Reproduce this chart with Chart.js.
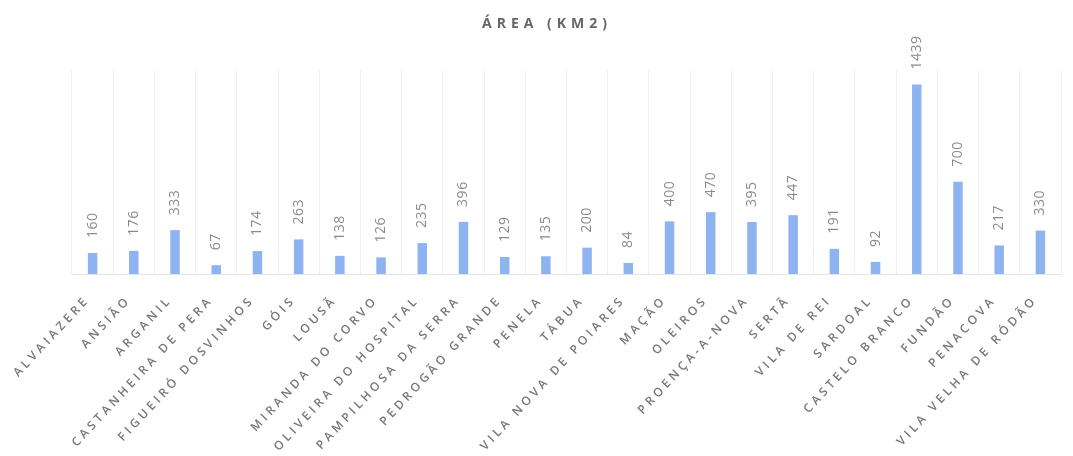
<!DOCTYPE html>
<html>
<head>
<meta charset="utf-8">
<script src="https://cdn.jsdelivr.net/npm/chart.js@4"></script>
<style>
  html, body { margin: 0; padding: 0; background: #fff; }
  #wrap { width: 1073px; height: 456px; }
</style>
</head>
<body>
<div id="wrap"><canvas id="grafico"></canvas></div>
<script>
const titulo = 'ÁREA (KM2)';
const concelhos = [
  'ALVAIAZERE', 'ANSIÃO', 'ARGANIL', 'CASTANHEIRA DE PERA', 'FIGUEIRÓ DOSVINHOS',
  'GÓIS', 'LOUSÃ', 'MIRANDA DO CORVO', 'OLIVEIRA DO HOSPITAL', 'PAMPILHOSA DA SERRA',
  'PEDROGÃO GRANDE', 'PENELA', 'TÁBUA', 'VILA NOVA DE POIARES', 'MAÇÃO', 'OLEIROS',
  'PROENÇA-A-NOVA', 'SERTÃ', 'VILA DE REI', 'SARDOAL', 'CASTELO BRANCO', 'FUNDÃO',
  'PENACOVA', 'VILA VELHA DE RÓDÃO'
];
const area = [160, 176, 333, 67, 174, 263, 138, 126, 235, 396, 129, 135, 200, 84,
  400, 470, 395, 447, 191, 92, 1439, 700, 217, 330];

// titulo e rótulos de valor desenhados à mão (precisam de espaçamento entre letras)
const extras = {
  id: 'extras',
  beforeDraw(chart) {
    chart.ctx.letterSpacing = '3.6px';
  },
  afterDatasetsDraw(chart) {
    const ctx = chart.ctx;
    ctx.save();
    ctx.letterSpacing = '0.5px';
    ctx.font = '14px "Open Sans"';
    ctx.fillStyle = '#8a8a8a';
    ctx.textAlign = 'left';
    ctx.textBaseline = 'middle';
    chart.getDatasetMeta(0).data.forEach((bar, i) => {
      ctx.save();
      ctx.translate(bar.x, bar.y - 15);
      ctx.rotate(-Math.PI / 2);
      ctx.fillText(area[i], 0, 0);
      ctx.restore();
    });
    ctx.letterSpacing = '5px';
    ctx.font = 'bold 14px "Open Sans"';
    ctx.fillStyle = '#666666';
    ctx.textAlign = 'center';
    ctx.fillText(titulo, 547, 24);
    ctx.restore();
  }
};

new Chart(document.getElementById('grafico').getContext('2d'), {
  type: 'bar',
  data: {
    labels: concelhos,
    datasets: [{
      data: area,
      backgroundColor: '#8db3f0',
      barPercentage: 0.23,
      categoryPercentage: 1
    }]
  },
  options: {
    responsive: true,
    maintainAspectRatio: false,
    animation: false,
    layout: { padding: { left: 72, right: 12, top: 70, bottom: 0 } },
    plugins: { legend: { display: false }, tooltip: { enabled: false } },
    scales: {
      y: { display: false, min: 0, max: 1550 },
      x: {
        grid: { color: '#f0f0f0', drawTicks: false },
        border: { color: '#e6e6e6' },
        ticks: {
          color: '#777777',
          font: { family: 'Open Sans', size: 12, weight: '600' },
          minRotation: 47,
          maxRotation: 47,
          padding: 19,
          labelOffset: -5,
          autoSkip: false
        },
        afterFit(scale) {
          scale.height = 182;
          scale.paddingLeft = 0;
          scale.paddingRight = 0;
        }
      }
    }
  },
  plugins: [extras]
});
</script>
</body>
</html>
